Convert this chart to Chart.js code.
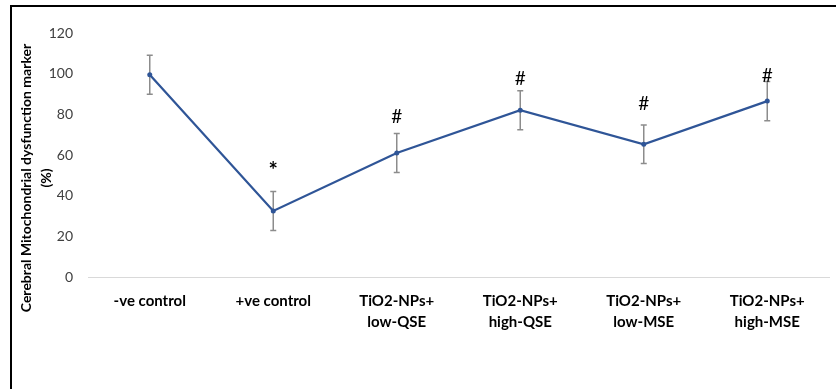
<!DOCTYPE html>
<html>
<head>
<meta charset="utf-8">
<script src="https://cdn.jsdelivr.net/npm/chart.js@4/dist/chart.umd.min.js"></script>
<style>
    html, body { margin: 0; padding: 0; background: #fff; }
    #wrap { position: relative; width: 836px; height: 389px; overflow: hidden; }
    #frame {
        position: absolute; left: 10px; top: 5px; width: 840px; height: 400px;
        border-top: 2px solid #000; border-left: 2px solid #000; pointer-events: none;
    }
    canvas { position: absolute; left: 0; top: 0; }
</style>
</head>
<body>
<div id="wrap">
    <canvas id="markerChart" width="836" height="389"></canvas>
    <div id="frame"></div>
</div>
<script>
// groups on the x axis (two lines each)
const groups = [
    ['-ve control'],
    ['+ve control'],
    ['TiO2-NPs+', 'low-QSE'],
    ['TiO2-NPs+', 'high-QSE'],
    ['TiO2-NPs+', 'low-MSE'],
    ['TiO2-NPs+', 'high-MSE']
];
// mean % and error (SD)
const meanValues = [99.5, 32.5, 61, 82, 65.3, 86.5];
const errValues = [9.6, 9.6, 9.6, 9.6, 9.5, 9.6];
// significance marks and the level (in %) where they sit
const sigMarks = ['', '*', '#', '#', '#', '#'];
const sigLevels = [0, 54, 78.7, 97.4, 85, 99];
const yTicks = [0, 20, 40, 60, 80, 100, 120];
const yTitle = ['Cerebral Mitochondrial dysfunction marker', '(%)'];

const LINE_COLOR = '#2f5597';
const ERR_COLOR = '#8c8c8c';

// error bars, drawn from the data through the scales
const errorBarPlugin = {
    id: 'errorBars',
    beforeDatasetsDraw(chart) {
        const ctx = chart.ctx;
        const x = chart.scales.x, y = chart.scales.y;
        ctx.save();
        ctx.strokeStyle = ERR_COLOR;
        ctx.lineWidth = 1.5;
        meanValues.forEach((v, i) => {
            const px = x.getPixelForValue(i);
            const top = y.getPixelForValue(v + errValues[i]);
            const bot = y.getPixelForValue(v - errValues[i]);
            ctx.beginPath();
            ctx.moveTo(px, top); ctx.lineTo(px, bot);
            ctx.moveTo(px - 3, top); ctx.lineTo(px + 3, top);
            ctx.moveTo(px - 3, bot); ctx.lineTo(px + 3, bot);
            ctx.stroke();
        });
        ctx.restore();
    }
};

// * and # marks above the groups
const sigPlugin = {
    id: 'sigMarks',
    afterDatasetsDraw(chart) {
        const ctx = chart.ctx;
        const x = chart.scales.x, y = chart.scales.y;
        ctx.save();
        ctx.fillStyle = '#000';
        ctx.textAlign = 'center';
        ctx.textBaseline = 'middle';
        sigMarks.forEach((m, i) => {
            if (!m) return;
            ctx.font = (m === '*' ? 'bold 22px' : '19px') + ' Lato, "Open Sans", sans-serif';
            const dy = m === '*' ? 4 : 0;
            ctx.fillText(m, x.getPixelForValue(i), y.getPixelForValue(sigLevels[i]) + dy);
        });
        ctx.restore();
    }
};

// y axis title, centred a bit lower than the plot like the original
const yTitlePlugin = {
    id: 'yTitle',
    afterDraw(chart) {
        const ctx = chart.ctx;
        ctx.save();
        ctx.translate(26, 178);
        ctx.rotate(-Math.PI / 2);
        ctx.fillStyle = '#000';
        ctx.font = 'bold 14px Lato, "Open Sans", sans-serif';
        ctx.textAlign = 'center';
        ctx.textBaseline = 'middle';
        yTitle.forEach((line, i) => ctx.fillText(line, 0, i * 20));
        ctx.restore();
    }
};

new Chart(document.getElementById('markerChart').getContext('2d'), {
    type: 'line',
    data: {
        labels: groups,
        datasets: [{
            data: meanValues,
            borderColor: LINE_COLOR,
            backgroundColor: LINE_COLOR,
            borderWidth: 2.25,
            pointRadius: 2.5,
            pointBackgroundColor: LINE_COLOR,
            pointBorderWidth: 0,
            tension: 0
        }]
    },
    options: {
        responsive: false,
        animation: false,
        layout: { padding: { top: 33, right: 7, bottom: 0, left: 0 } },
        plugins: { legend: { display: false }, tooltip: { enabled: false } },
        scales: {
            x: {
                offset: true,
                grid: { display: false, drawTicks: false },
                border: { display: true, color: '#d9d9d9', width: 1 },
                ticks: {
                    padding: 14,
                    maxRotation: 0,
                    autoSkip: false,
                    color: '#000',
                    font: { family: 'Lato', size: 15, weight: 'bold', lineHeight: 1.4 }
                },
                afterFit(scale) { scale.height = 112; }
            },
            y: {
                min: 0,
                max: 120,
                afterBuildTicks(scale) { scale.ticks = yTicks.map(v => ({ value: v })); },
                grid: { display: false, drawTicks: false },
                border: { display: false },
                ticks: {
                    padding: 15,
                    color: '#404040',
                    font: { family: 'Lato', size: 14 }
                },
                afterFit(scale) { scale.width = 88; }
            }
        }
    },
    plugins: [errorBarPlugin, sigPlugin, yTitlePlugin]
});
</script>
</body>
</html>
